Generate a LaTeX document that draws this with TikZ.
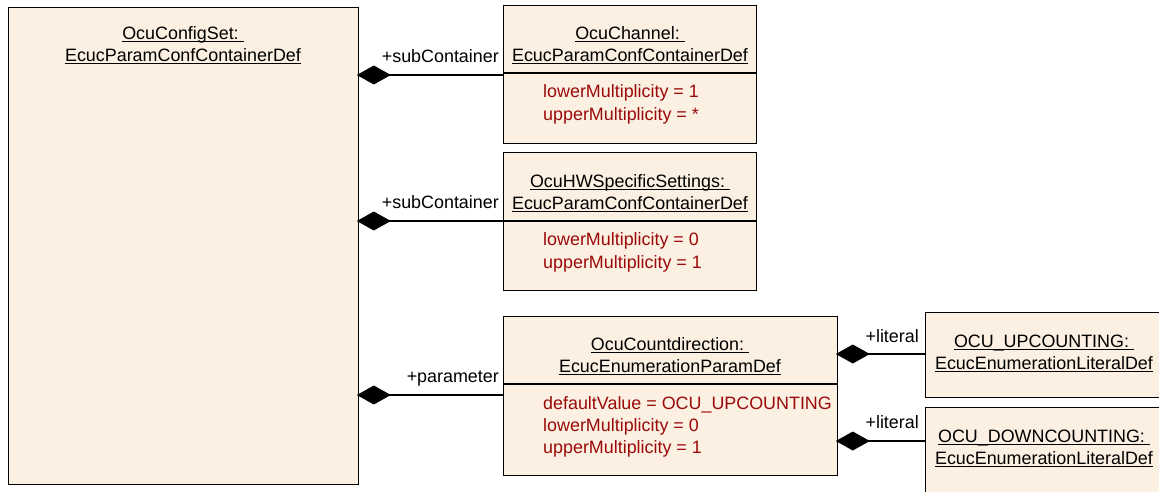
\documentclass[tikz,border=0pt]{standalone}
\usepackage{fontspec}
\setmainfont{Liberation Sans}
\usetikzlibrary{arrows.meta}
\definecolor{boxfill}{RGB}{251,240,225}
\definecolor{attrred}{RGB}{155,10,10}
\newcommand{\ulx}[1]{{\setbox0\hbox{#1}\rlap{\rule[-2.6pt]{\wd0}{1pt}}\box0}}
\begin{document}
\begin{tikzpicture}[x=1pt,y=-1pt,
  font=\fontsize{17.9}{22}\selectfont,
  umlbox/.style={draw=black, fill=boxfill, line width=1.3pt, inner sep=0pt, anchor=north west},
  ttl/.style={anchor=base, inner sep=0pt},
  attrtext/.style={anchor=base west, inner sep=0pt, text=attrred},
  role/.style={anchor=base east, inner sep=0pt},
  comp/.style={line width=1.3pt, -{Diamond[length=34pt,width=19pt]}, shorten >=-2.5pt},
  divline/.style={line width=1.3pt}]
\useasboundingbox (0,0) rectangle (1159,491);
\clip (0,0) rectangle (1159,491);

% boxes
\node[umlbox, minimum width=350pt, minimum height=477pt] (cfg) at (8,7) {};
\node[umlbox, minimum width=253pt, minimum height=138pt] (chan) at (503,5) {};
\node[umlbox, minimum width=253pt, minimum height=138pt] (hw) at (503,152) {};
\node[umlbox, minimum width=334pt, minimum height=159pt] (cnt) at (503,316) {};
\node[umlbox, minimum width=240pt, minimum height=85pt] (up) at (925,312) {};
\node[umlbox, minimum width=240pt, minimum height=100pt] (down) at (925,407) {};

% dividers
\draw[divline] (chan.west |- 0,73) -- (chan.east |- 0,73);
\draw[divline] (hw.west |- 0,221) -- (hw.east |- 0,221);
\draw[divline] (cnt.west |- 0,384) -- (cnt.east |- 0,384);

% titles
\node[ttl] (cfgt1) at (183,39) {\ulx{OcuConfigSet:\ }};
\node[ttl] (cfgt2) at (183,61) {\ulx{EcucParamConfContainerDef}};
\node[ttl] (chant1) at (630,39) {\ulx{OcuChannel:\ }};
\node[ttl] (chant2) at (630,61) {\ulx{EcucParamConfContainerDef}};
\node[ttl] (hwt1) at (630,187) {\ulx{OcuHWSpecificSettings:\ }};
\node[ttl] (hwt2) at (630,209) {\ulx{EcucParamConfContainerDef}};
\node[ttl] (cntt1) at (670,350) {\ulx{OcuCountdirection:\ }};
\node[ttl] (cntt2) at (670,372) {\ulx{EcucEnumerationParamDef}};
\node[ttl] (upt1) at (1044,347) {\ulx{OCU\_UPCOUNTING:\ }};
\node[ttl] (upt2) at (1044,369) {\ulx{EcucEnumerationLiteralDef}};
\node[ttl] (downt1) at (1044,442) {\ulx{OCU\_DOWNCOUNTING:\ }};
\node[ttl] (downt2) at (1044,464) {\ulx{EcucEnumerationLiteralDef}};

% attributes
\node[attrtext] (chana1) at (543,97) {lowerMultiplicity = 1};
\node[attrtext] (chana2) at (543,120) {upperMultiplicity = *};
\node[attrtext] (hwa1) at (543,245) {lowerMultiplicity = 0};
\node[attrtext] (hwa2) at (543,268) {upperMultiplicity = 1};
\node[attrtext] (cnta1) at (543,409) {defaultValue = OCU\_UPCOUNTING};
\node[attrtext] (cnta2) at (543,431) {lowerMultiplicity = 0};
\node[attrtext] (cnta3) at (543,453) {upperMultiplicity = 1};

% connectors
\draw[comp] (chan.west |- 0,75) -- (cfg.east |- 0,75);
\draw[comp] (hw.west |- 0,221) -- (cfg.east |- 0,221);
\draw[comp] (cnt.west |- 0,395) -- (cfg.east |- 0,395);
\draw[comp] (up.west |- 0,354) -- (cnt.east |- 0,354);
\draw[comp] (down.west |- 0,441) -- (cnt.east |- 0,441);

% role labels
\node[role] (r1) at (499,62) {+subContainer};
\node[role] (r2) at (499,208) {+subContainer};
\node[role] (r3) at (499,382) {+parameter};
\node[role] (r4) at (919,342) {+literal};
\node[role] (r5) at (919,428) {+literal};
\end{tikzpicture}
\end{document}
